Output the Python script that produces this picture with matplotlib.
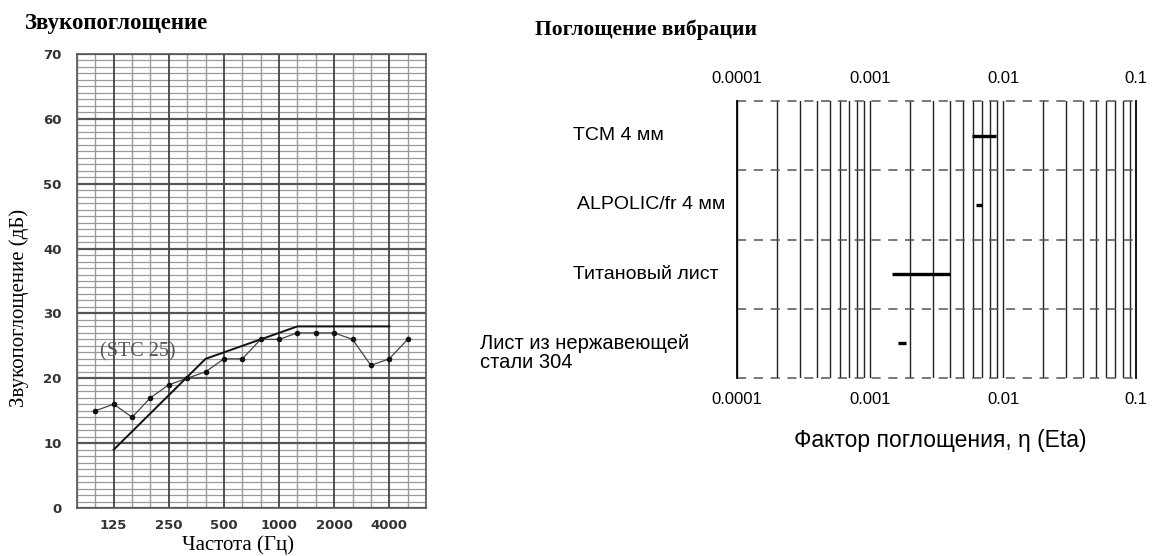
import matplotlib
matplotlib.use('Agg')
import matplotlib.pyplot as plt
import matplotlib.transforms as mtransforms
import numpy as np

# третьоктавные полосы (сетка) и измеренные данные
bands = [80, 100, 125, 160, 200, 250, 315, 400, 500, 630, 800, 1000,
         1250, 1600, 2000, 2500, 3150, 4000, 5000, 6300]
octave_labels = [125, 250, 500, 1000, 2000, 4000]
meas_freq = [100, 125, 160, 200, 250, 315, 400, 500, 630, 800, 1000,
             1250, 1600, 2000, 2500, 3150, 4000, 5000]
meas_db = [15, 16, 14, 17, 19, 20, 21, 23, 23, 26, 26,
           27, 27, 27, 26, 22, 23, 26]
stc_freq = [125, 400, 1250, 4000]
stc_db = [9, 23, 28, 28]

# поглощение вибрации
materials = ['TCM 4 мм', 'ALPOLIC/fr 4 мм', 'Титановый лист',
             'Лист из нержавеющей\nстали 304']
eta_low = [0.0058, 0.0063, 0.00146, 0.00163]
eta_high = [0.0088, 0.0070, 0.0040, 0.00187]
eta_ticks = [0.0001, 0.001, 0.01, 0.1]
eta_ticklabels = ['0.0001', '0.001', '0.01', '0.1']

W, H = 1160, 556
fig = plt.figure(figsize=(W / 100, H / 100), dpi=100)
fig.patch.set_facecolor('white')

serif = ['Liberation Serif', 'DejaVu Serif']
sans = ['Liberation Sans', 'DejaVu Sans']

# ---------- левый график ----------
ax1 = fig.add_axes([77 / W, 1 - 508 / H, 349 / W, 454 / H])
pos = {f: i for i, f in enumerate(bands)}
ax1.set_xlim(0, len(bands) - 1)
ax1.set_ylim(0, 70)

for v in range(0, 71):
    if v % 10 == 0:
        ax1.axhline(v, color='#555555', lw=1.6, zorder=1)
    else:
        ax1.axhline(v, color='#9a9a9a', lw=0.9, zorder=0)
for f in bands:
    if f in octave_labels:
        ax1.axvline(pos[f], color='#444444', lw=1.3, zorder=1)
    else:
        ax1.axvline(pos[f], color='#999999', lw=1.0, zorder=0)

ax1.plot([pos[f] for f in meas_freq], meas_db, color='#444444', lw=0.9,
         marker='o', ms=3, mfc='#111111', mec='#111111', zorder=3)
ax1.plot([pos[f] for f in stc_freq], stc_db, color='#111111', lw=1.4, zorder=3)
ax1.text(pos[100] + 0.25, 24, '(STC 25)', family=serif, fontsize=14.5,
         color='#555555', va='center', ha='left', zorder=4)

ax1.set_xticks([pos[f] for f in octave_labels])
ax1.set_xticklabels([str(f) for f in octave_labels], fontsize=9.5,
                    fontweight='bold', color='#333333')
ax1.set_yticks(range(0, 71, 10))
ax1.set_yticklabels([str(v) for v in range(0, 71, 10)], fontsize=9.5,
                    fontweight='bold', color='#333333')
ax1.tick_params(axis='x', length=0, pad=8)
ax1.tick_params(axis='y', length=0, pad=11)
for s in ax1.spines.values():
    s.set_color('#555555')
    s.set_linewidth(1.2)
ax1.set_xlabel('Частота (Гц)', family=serif, fontsize=15)
ax1.xaxis.set_label_coords((238 - 77) / 349, -(535 - 508) / 454)
ax1.set_ylabel('Звукопоглощение (дБ)', family=serif, fontsize=15)
ax1.yaxis.set_label_coords(-(77 - 29) / 349, (508 - 308) / 454)
fig.text(25 / W, 1 - 24 / H, 'Звукопоглощение', family=serif, fontsize=16.5,
         fontweight='bold', va='center', ha='left')

# ---------- правый график ----------
ax2 = fig.add_axes([737 / W, 1 - 378 / H, 399 / W, 277 / H])
ax2.set_xscale('log')
ax2.set_xlim(0.0001, 0.1)
ax2.set_ylim(0, len(materials))

for dec in [0.0001, 0.001, 0.01]:
    for m in range(1, 10):
        ax2.axvline(dec * m, color='#222222', lw=1.0, zorder=1)
for yy in range(0, len(materials) + 1):
    ax2.axhline(yy, color='#555555', lw=1.1, ls=(0, (6, 5)), zorder=2,
                clip_on=False)

rows = [len(materials) - 0.5 - i for i in range(len(materials))]
ax2.hlines(rows, eta_low, eta_high, color='black', lw=2.4, zorder=3)

ax2.set_xticks(eta_ticks)
ax2.set_xticklabels(eta_ticklabels, family=sans, fontsize=12)
ax2.xaxis.set_minor_locator(matplotlib.ticker.NullLocator())
ax2.tick_params(axis='x', which='both', length=0, pad=10)
ax2.set_yticks([])
for side in ['top', 'bottom']:
    ax2.spines[side].set_visible(False)
for side in ['left', 'right']:
    ax2.spines[side].set_color('black')
    ax2.spines[side].set_linewidth(1.3)

sec = ax2.secondary_xaxis('top')
sec.set_xticks(eta_ticks)
sec.set_xticklabels(eta_ticklabels, family=sans, fontsize=12)
sec.xaxis.set_minor_locator(matplotlib.ticker.NullLocator())
sec.tick_params(axis='x', which='both', length=0, pad=11)
sec.spines['top'].set_visible(False)

label_x = [573, 577, 573, 480]
label_dy = [0, 0, 0, -0.14]
label_fs = [14, 14, 14, 14.5]
trans = mtransforms.blended_transform_factory(fig.transFigure, ax2.transData)
for txt, yy, lx, dy, fs in zip(materials, rows, label_x, label_dy, label_fs):
    ax2.text(lx / W, yy + dy, txt, transform=trans, family=sans,
             fontsize=fs, ha='left', va='center', linespacing=1.05)

ax2.set_xlabel('Фактор поглощения, η (Eta)', family=sans, fontsize=16.5)
ax2.xaxis.set_label_coords((940 - 737) / 399, -(429 - 378) / 277)
fig.text(535 / W, 1 - 30 / H, 'Поглощение вибрации', family=serif,
         fontsize=15.5, fontweight='bold', va='center', ha='left')

fig.savefig('out.png', dpi=100, facecolor='white')
